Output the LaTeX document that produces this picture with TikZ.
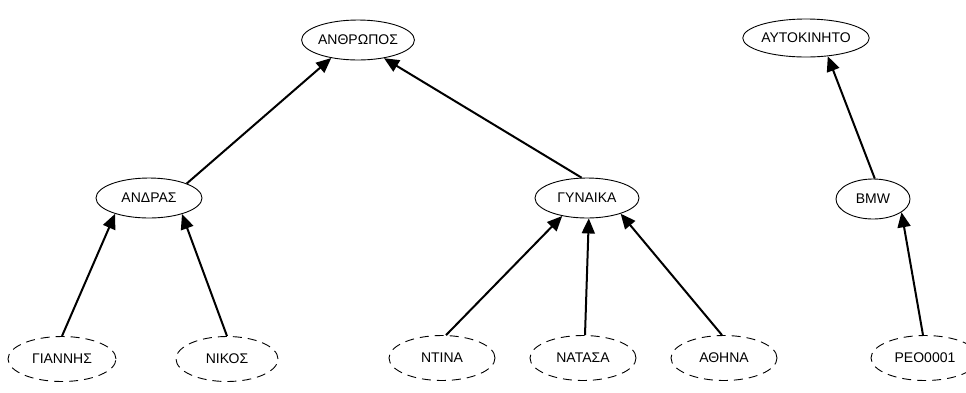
\documentclass[tikz,border=0pt]{standalone}
\usepackage{fontspec}
\setmainfont{Liberation Sans}
\usetikzlibrary{shapes.geometric,arrows.meta}

\begin{document}
\begin{tikzpicture}[x=1pt,y=-1pt,
    class/.style={draw,ellipse,line width=0.9pt,minimum width=106pt,minimum height=40pt,
      inner sep=0pt,font=\fontsize{14}{16}\selectfont},
    inst/.style={class,dash pattern=on 9pt off 6pt,minimum height=45pt},
    isa/.style={line width=2pt,-{Triangle[length=15pt,width=13pt]}}]
  \useasboundingbox (0,0) rectangle (966,392);

  % classes
  \node[class] (anthropos) at (358,40) {ΑΝΘΡΩΠΟΣ};
  \node[class,minimum width=110pt,minimum height=38pt] (aftokinito) at (806,38) {ΑΥΤΟΚΙΝΗΤΟ};
  \node[class] (andras) at (149,198) {ΑΝΔΡΑΣ};
  \node[class,minimum width=104pt] (gynaika) at (587,198) {ΓΥΝΑΙΚΑ};
  \node[class,minimum width=74pt] (bmw) at (873,199) {BMW};

  % instances
  \node[inst,minimum width=108pt] (giannis) at (62,359) {ΓΙΑΝΝΗΣ};
  \node[inst,minimum width=102pt] (nikos) at (227,359) {ΝΙΚΟΣ};
  \node[inst] (ntina) at (442,358) {ΝΤΙΝΑ};
  \node[inst] (natasa) at (583,358) {ΝΑΤΑΣΑ};
  \node[inst] (athina) at (724,358) {ΑΘΗΝΑ};
  \node[inst,minimum width=108pt] (peo) at (925,358) {PEO0001};

  \draw[isa] (giannis.north) -- (andras.205);
  \draw[isa] (nikos.north) -- (andras.334);
  \draw[isa] (ntina.80) -- (gynaika.216);
  \draw[isa] (natasa.85) -- (gynaika.275);
  \draw[isa] (athina.95) -- (gynaika.335);
  \draw[isa] (peo.95) -- (bmw.335);
  \draw[isa] (bmw.85) -- (aftokinito.320);
  \draw[isa] (andras.21) -- (anthropos.214);
  \draw[isa] (gynaika.105) -- (anthropos.325);
\end{tikzpicture}
\end{document}
